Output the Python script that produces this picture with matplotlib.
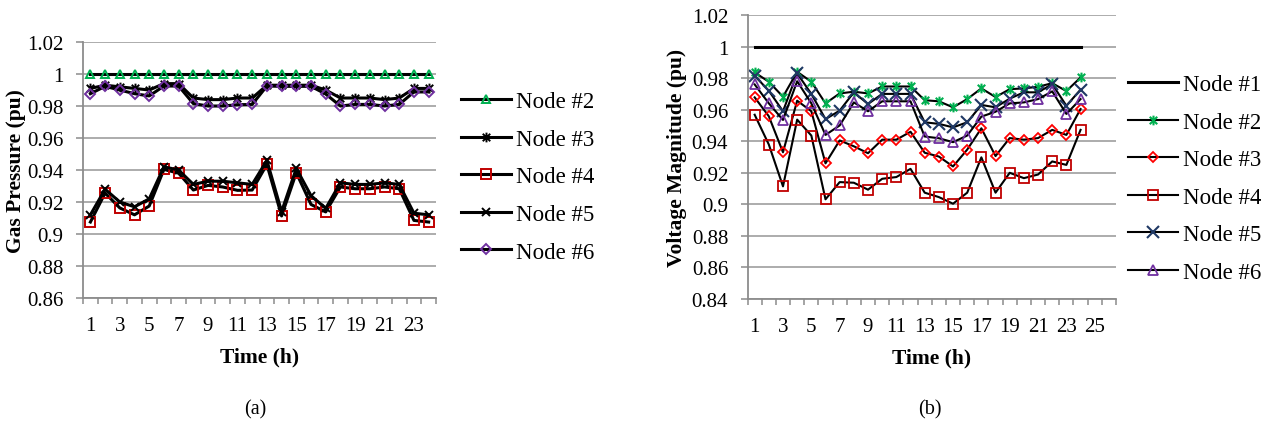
import matplotlib
matplotlib.use("Agg")
import matplotlib.pyplot as plt
from matplotlib.path import Path
from matplotlib.ticker import FormatStrFormatter
import numpy as np

plt.rcParams['font.family'] = ['Liberation Serif', 'DejaVu Serif']

# ---- data: (a) gas pressure, 24 hours ----
hours_a = list(range(1, 25))
gas_n2 = [1.000, 1.000, 1.000, 1.000, 1.000, 1.000, 1.000, 1.000, 1.000, 1.000, 1.000, 1.000,
          1.000, 1.000, 1.000, 1.000, 1.000, 1.000, 1.000, 1.000, 1.000, 1.000, 1.000, 1.000]
gas_n3 = [0.991, 0.993, 0.992, 0.991, 0.990, 0.994, 0.994, 0.985, 0.984, 0.984, 0.985, 0.985,
          0.993, 0.993, 0.993, 0.993, 0.990, 0.985, 0.985, 0.985, 0.984, 0.985, 0.991, 0.991]
gas_n4 = [0.9075, 0.9256, 0.9163, 0.912, 0.9175, 0.9404, 0.938, 0.9275, 0.9304, 0.9294, 0.9273, 0.9275,
          0.9435, 0.9113, 0.9383, 0.9185, 0.9138, 0.9294, 0.9283, 0.9283, 0.9294, 0.9283, 0.9085, 0.9075]
gas_n5 = [0.912, 0.928, 0.920, 0.917, 0.922, 0.942, 0.940, 0.931, 0.933, 0.933, 0.932, 0.931,
          0.946, 0.914, 0.941, 0.924, 0.916, 0.932, 0.931, 0.931, 0.932, 0.931, 0.913, 0.912]
gas_n6 = [0.9877, 0.9923, 0.990, 0.9877, 0.9863, 0.9925, 0.9925, 0.9815, 0.980, 0.980, 0.9808, 0.981,
          0.9925, 0.9923, 0.9923, 0.9923, 0.9875, 0.980, 0.981, 0.981, 0.980, 0.981, 0.9888, 0.9888]

# ---- data: (b) voltage magnitude, 24 hours (axis has 26 slots) ----
hours_b = list(range(1, 25))
volt_n1 = [1.000, 1.000, 1.000, 1.000, 1.000, 1.000, 1.000, 1.000, 1.000, 1.000, 1.000, 1.000,
           1.000, 1.000, 1.000, 1.000, 1.000, 1.000, 1.000, 1.000, 1.000, 1.000, 1.000, 1.000]
volt_n2 = [0.9836, 0.9777, 0.9682, 0.984, 0.9777, 0.964, 0.9703, 0.9714, 0.9703, 0.9747, 0.9747, 0.9747,
           0.966, 0.9653, 0.9615, 0.9667, 0.9735, 0.968, 0.973, 0.9735, 0.9745, 0.9768, 0.9718, 0.9804]
volt_n3 = [0.9678, 0.9558, 0.933, 0.9657, 0.959, 0.926, 0.9405, 0.9368, 0.9324, 0.941, 0.941, 0.946,
           0.9327, 0.9303, 0.924, 0.9347, 0.9482, 0.9306, 0.942, 0.941, 0.942, 0.9472, 0.944, 0.9604]
volt_n4 = [0.9568, 0.9379, 0.9114, 0.9537, 0.9436, 0.9032, 0.9141, 0.9137, 0.9093, 0.9162, 0.9173, 0.9225,
           0.9074, 0.9046, 0.9004, 0.9074, 0.9298, 0.9074, 0.920, 0.9166, 0.9189, 0.9272, 0.925, 0.9472]
volt_n5 = [0.9815, 0.972, 0.959, 0.983, 0.970, 0.954, 0.9594, 0.971, 0.9636, 0.970, 0.970, 0.970,
           0.952, 0.951, 0.9488, 0.952, 0.963, 0.9615, 0.967, 0.971, 0.971, 0.9762, 0.9625, 0.9727]
volt_n6 = [0.976, 0.964, 0.9535, 0.978, 0.964, 0.944, 0.950, 0.9646, 0.959, 0.9653, 0.9653, 0.9653,
           0.943, 0.9419, 0.9394, 0.9436, 0.9556, 0.9587, 0.964, 0.9646, 0.9667, 0.9716, 0.9573, 0.9667]

# Excel-style "star" marker: an x with a vertical bar
star = Path([(-1, -1), (1, 1), (-1, 1), (1, -1), (0, -1.3), (0, 1.3)],
            [Path.MOVETO, Path.LINETO, Path.MOVETO, Path.LINETO, Path.MOVETO, Path.LINETO])

GRID = '#a6a6a6'
AXIS = '#8c8c8c'
GREEN = '#00b050'
DARKRED = '#c00000'
RED = '#ff0000'
NAVY = '#1f3864'
PURPLE = '#7030a0'

TICK_FS = 15
TITLE_FS = 15.5
LEGEND_FS = 16.5


def style_axes(ax, n_slots, ymin, ymax, xlabels):
    ax.set_xlim(0.5, n_slots + 0.5)
    ax.set_ylim(ymin, ymax)
    ax.set_yticks(np.round(np.arange(ymin, ymax + 0.001, 0.02), 2))
    ax.yaxis.set_major_formatter(FormatStrFormatter('%g'))
    ax.set_xticks(xlabels)
    ax.set_xticklabels([str(v) for v in xlabels])
    ax.set_xticks(np.arange(0.5, n_slots + 1, 1.0), minor=True)
    ax.tick_params(axis='x', which='major', length=0, labelsize=TICK_FS, pad=13)
    ax.tick_params(axis='x', which='minor', length=4, width=1.1, color=AXIS, direction='out')
    ax.tick_params(axis='y', length=5, width=1.1, color=AXIS, labelsize=TICK_FS, pad=9)
    ax.grid(axis='y', color=GRID, linewidth=1.3)
    ax.set_axisbelow(True)
    for s in ['top', 'right']:
        ax.spines[s].set_visible(False)
    for s in ['left', 'bottom']:
        ax.spines[s].set_color(AXIS)
        ax.spines[s].set_linewidth(1.3)
    ax.set_xlabel('Time (h)', fontsize=TITLE_FS, fontweight='bold', labelpad=8)


fig = plt.figure(figsize=(12.66, 4.35), dpi=100)

# ---- (a) gas pressure ----
ax1 = fig.add_axes([0.0656, 0.3126, 0.2788, 0.5885])
lw_a = 2.2
ax1.plot(hours_a, gas_n2, color='black', lw=lw_a, marker='^', ms=6, mfc='none', mec=GREEN, mew=1.4, label='Node #2')
ax1.plot(hours_a, gas_n3, color='black', lw=lw_a, marker=star, ms=7, mec='black', mew=1.4, label='Node #3')
ax1.plot(hours_a, gas_n4, color='black', lw=lw_a, marker='s', ms=6.5, mfc='none', mec=DARKRED, mew=1.4, label='Node #4')
ax1.plot(hours_a, gas_n5, color='black', lw=lw_a, marker='x', ms=6, mec='black', mew=1.4, label='Node #5')
ax1.plot(hours_a, gas_n6, color='black', lw=lw_a, marker='D', ms=5, mfc='none', mec=PURPLE, mew=1.4, label='Node #6')
style_axes(ax1, 24, 0.86, 1.02, list(range(1, 24, 2)))
ax1.set_ylabel('Gas Pressure (pu)', fontsize=TITLE_FS, fontweight='bold', labelpad=1)
fig.legend(handles=ax1.get_lines(), loc='center left', bbox_to_anchor=(0.364, 0.591),
           frameon=False, fontsize=LEGEND_FS, handlelength=2.2, handletextpad=0.22,
           labelspacing=0.72, borderpad=0, borderaxespad=0)

# ---- (b) voltage magnitude ----
ax2 = fig.add_axes([0.5905, 0.3103, 0.2910, 0.6529])
lw_b = 1.5
ax2.plot(hours_b, volt_n1, color='black', lw=2.2, label='Node #1')
ax2.plot(hours_b, volt_n2, color='black', lw=lw_b, marker=star, ms=7, mec=GREEN, mew=1.5, label='Node #2')
ax2.plot(hours_b, volt_n3, color='black', lw=lw_b, marker='D', ms=5, mfc='none', mec=RED, mew=1.3, label='Node #3')
ax2.plot(hours_b, volt_n4, color='black', lw=lw_b, marker='s', ms=7, mfc='none', mec=DARKRED, mew=1.3, label='Node #4')
ax2.plot(hours_b, volt_n5, color='black', lw=lw_b, marker='x', ms=8.5, mec=NAVY, mew=1.5, label='Node #5')
ax2.plot(hours_b, volt_n6, color='black', lw=lw_b, marker='^', ms=7, mfc='none', mec=PURPLE, mew=1.3, label='Node #6')
style_axes(ax2, 26, 0.84, 1.02, list(range(1, 26, 2)))
ax2.set_ylabel('Voltage Magnitude (pu)', fontsize=TITLE_FS, fontweight='bold', labelpad=3)
fig.legend(handles=ax2.get_lines(), loc='center left', bbox_to_anchor=(0.8908, 0.5874),
           frameon=False, fontsize=LEGEND_FS, handlelength=2.2, handletextpad=0.22,
           labelspacing=0.72, borderpad=0, borderaxespad=0)

# captions
fig.text(255 / 1266, 1 - 410 / 435, '(a)', ha='center', va='center', fontsize=14.5)
fig.text(930 / 1266, 1 - 410 / 435, '(b)', ha='center', va='center', fontsize=14.5)

fig.savefig('out.png', dpi=100)
